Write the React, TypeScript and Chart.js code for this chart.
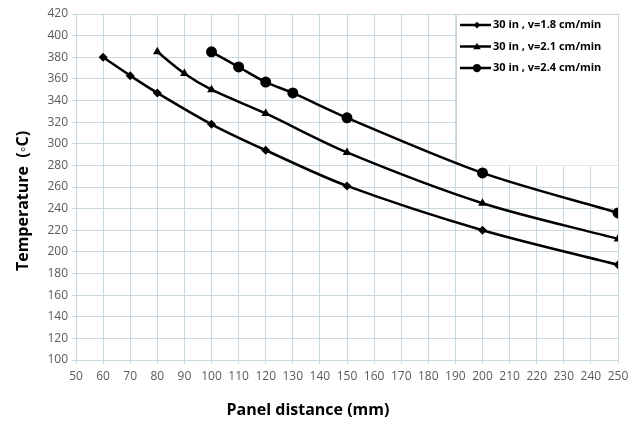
import React, { useEffect, useRef } from "react";
import { Chart, registerables } from "chart.js";

Chart.register(...registerables);

const seriesLabels = ["30 in , v=1.8 cm/min", "30 in , v=2.1 cm/min", "30 in , v=2.4 cm/min"];
const distA = [60, 70, 80, 100, 120, 150, 200, 250];
const tempA = [380, 363, 347, 318, 294, 261, 220, 188];
const distB = [80, 90, 100, 120, 150, 200, 250];
const tempB = [385, 365, 350, 328, 292, 245, 212];
const distC = [100, 110, 120, 130, 150, 200, 250];
const tempC = [385, 371, 357, 347, 324, 273, 236];
const pointStyles = ["rectRot", "triangle", "circle"];
const pointSizes = [4.5, 5, 5.5];

const xTitle = "Panel distance (mm)";
const yTitle = "Temperature  (\u25E6C)";

const titlesPlugin = {
  id: "axisTitles",
  afterDraw(chart: any) {
    const { ctx } = chart;
    ctx.save();
    ctx.fillStyle = "#000";
    ctx.font = "bold 16px 'Open Sans'";
    ctx.textAlign = "center";
    ctx.textBaseline = "middle";
    ctx.fillText(xTitle, 308, 410);
    ctx.translate(23, 201);
    ctx.rotate(-Math.PI / 2);
    ctx.fillText(yTitle, 0, 0);
    ctx.restore();
  },
};

const legendPlugin = {
  id: "boxLegend",
  beforeDatasetsDraw(chart: any) {
    const { ctx, scales } = chart;
    const x = scales.x, y = scales.y;
    const left = x.getPixelForValue(190.2);
    const right = x.getPixelForValue(250);
    const top = y.getPixelForValue(420);
    const bottom = y.getPixelForValue(280);
    ctx.save();
    ctx.fillStyle = "#ffffff";
    ctx.fillRect(left, top, right - left, bottom - top);
    ctx.strokeStyle = "#d0d0d0";
    ctx.lineWidth = 1;
    ctx.beginPath();
    ctx.moveTo(left + 0.5, bottom);
    ctx.lineTo(left + 0.5, top + 0.5);
    ctx.lineTo(right, top + 0.5);
    ctx.stroke();
    chart.data.datasets.forEach((ds: any, i: number) => {
      const cy = top + 11 + i * 21.5;
      const lx = left + 4;
      ctx.strokeStyle = "#000";
      ctx.lineWidth = 2.5;
      ctx.beginPath();
      ctx.moveTo(lx, cy);
      ctx.lineTo(lx + 31, cy);
      ctx.stroke();
      ctx.fillStyle = "#000";
      const ps = ds.pointStyle;
      const r = ds.pointRadius * 0.75;
      const mx = lx + 17;
      ctx.beginPath();
      if (ps === "rectRot") {
        ctx.moveTo(mx, cy - r); ctx.lineTo(mx + r, cy); ctx.lineTo(mx, cy + r); ctx.lineTo(mx - r, cy); ctx.closePath();
      } else if (ps === "triangle") {
        ctx.moveTo(mx, cy - r); ctx.lineTo(mx + r, cy + r * 0.7); ctx.lineTo(mx - r, cy + r * 0.7); ctx.closePath();
      } else {
        ctx.arc(mx, cy, r, 0, Math.PI * 2);
      }
      ctx.fill();
      ctx.font = "bold 11px 'Open Sans'";
      ctx.textBaseline = "middle";
      ctx.textAlign = "left";
      ctx.fillText(ds.label, lx + 33, cy);
    });
    ctx.restore();
  },
};

export default function App() {
  const ref = useRef<HTMLCanvasElement>(null);
  useEffect(() => {
    document.body.style.margin = "0";
    const mk = (xs: number[], ys: number[]) => xs.map((v, i) => ({ x: v, y: ys[i] }));
    const sets = [mk(distA, tempA), mk(distB, tempB), mk(distC, tempC)];
    const chart = new Chart(ref.current!, {
      type: "line",
      data: {
        datasets: sets.map((d, i) => ({
          label: seriesLabels[i],
          data: d,
          borderColor: "#000",
          backgroundColor: "#000",
          borderWidth: 2.5,
          pointStyle: pointStyles[i] as any,
          pointRadius: pointSizes[i],
          pointBorderWidth: 0,
          tension: 0.3,
          fill: false,
        })),
      },
      options: {
        animation: false,
        responsive: false,
        layout: { padding: { top: 14, right: 16, left: 0, bottom: 0 } },
        plugins: { legend: { display: false }, tooltip: { enabled: false } },
        scales: {
          x: {
            type: "linear",
            min: 50,
            max: 250,
            ticks: { stepSize: 10, color: "#5a5a5a", font: { size: 12, family: "'Open Sans'" }, padding: 5, maxRotation: 0, autoSkip: false },
            grid: { color: "#c9d9e2", tickLength: 4, lineWidth: 1 },
            border: { color: "#c9d9e2" },
            afterFit: (s: any) => { s.height = 63; },
          },
          y: {
            min: 100,
            max: 420,
            ticks: { stepSize: 20, color: "#5a5a5a", font: { size: 12, family: "'Open Sans'" }, padding: 4 },
            grid: { color: "#c9d9e2", tickLength: 4, lineWidth: 1 },
            border: { color: "#c9d9e2" },
            afterFit: (s: any) => { s.width = 76; },
          },
        },
      },
      plugins: [legendPlugin, titlesPlugin],
    });
    return () => chart.destroy();
  }, []);
  return <canvas ref={ref} width={634} height={423} style={{ display: "block" }} />;
}
